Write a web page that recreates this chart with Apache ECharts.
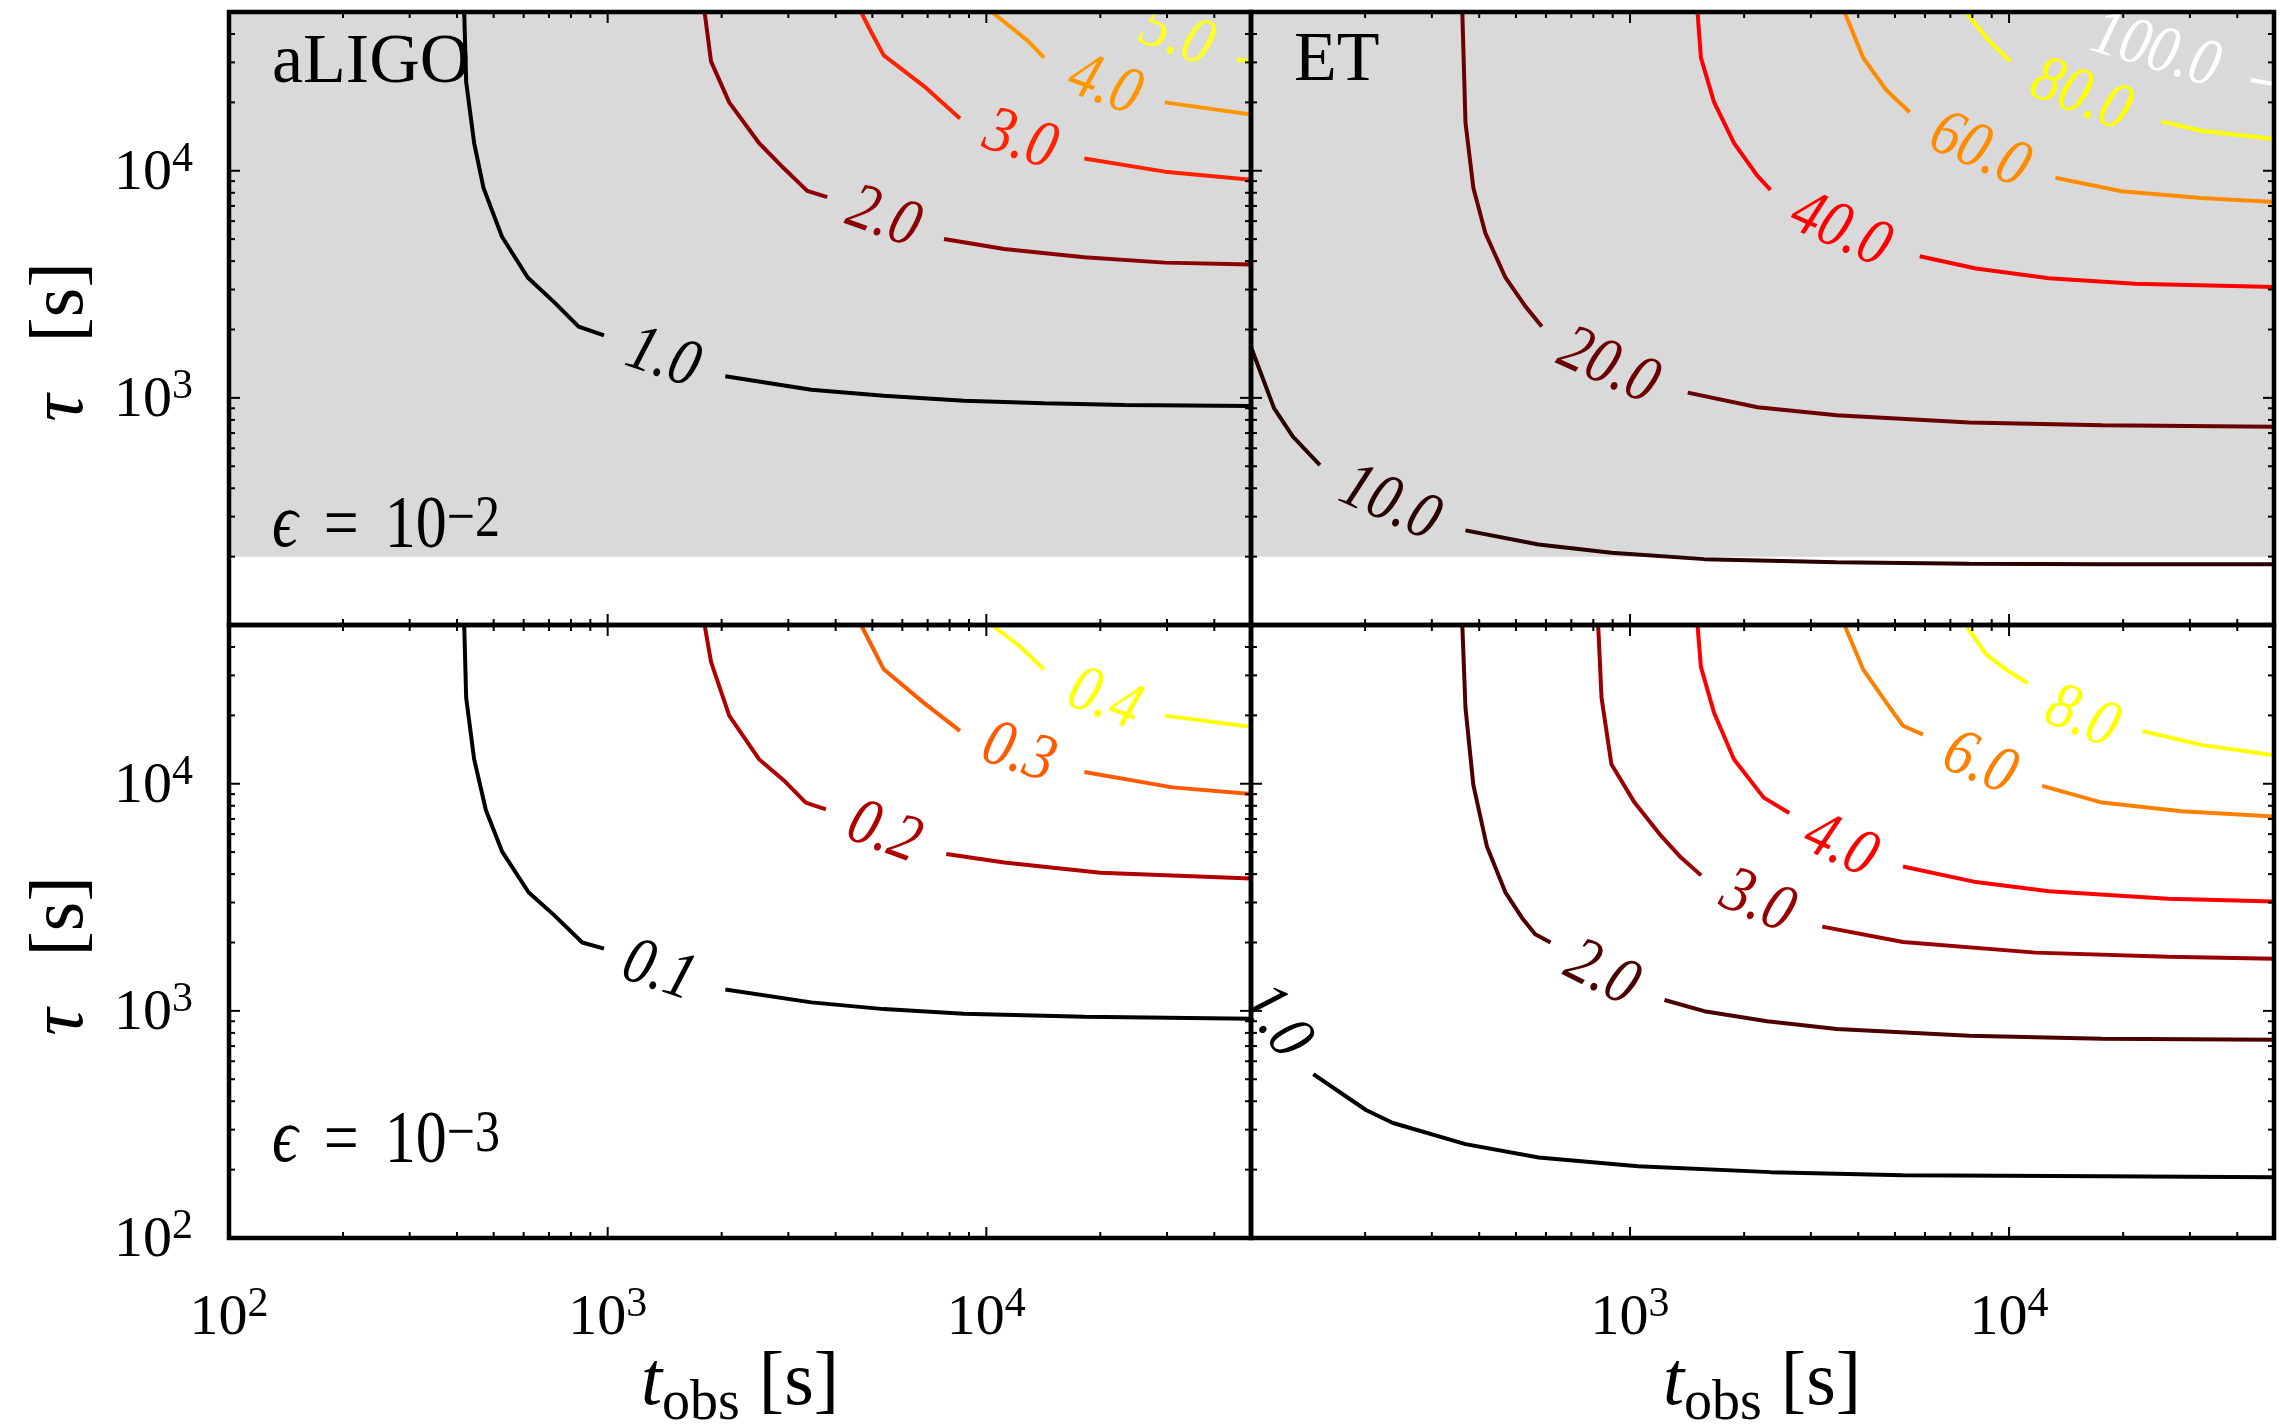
<!DOCTYPE html>
<html>
<head>
<meta charset="utf-8">
<script src="https://cdn.jsdelivr.net/npm/echarts@6/dist/echarts.min.js"></script>
<style>
  html, body { margin: 0; padding: 0; background: #ffffff; }
  #chart { width: 2280px; height: 1425px; }
</style>
</head>
<body>
<div id="chart"></div>
<script>
// ---- axis extents and ticks (seconds) ----
const tMin = 100;
const tMax = 50000;
const decadeExponents = [2, 3, 4];
const minorMantissas = [2, 3, 4, 5, 6, 7, 8, 9];
const shadedTauMin = 200;

// ---- aLIGO, epsilon = 1e-2 ----
const aligoHighLevels = ['1.0', '2.0', '3.0', '4.0', '5.0'];
const aligoHighColors = ['#000000', '#8b0000', '#ff2200', '#ff9500', '#ffff20'];
const aligoHighBefore = [
  [[418, 50000], [423, 24600], [444, 13250], [470, 8410], [526, 5120], [615, 3390], [722, 2640], [838, 2060], [978, 1885]],
  [[1803, 50000], [1875, 30300], [2094, 20000], [2510, 13250], [2906, 10330], [3365, 8150], [3800, 7650]],
  [[4670, 50000], [4980, 40400], [5360, 32200], [6840, 23600], [8520, 17000]],
  [[10350, 50000], [12900, 37200], [14200, 31500]],
  []
];
const aligoHighLabelAt = [[1397, 1482], [5345, 6160], [12280, 13520], [20500, 23600], [31800, 38800]];
const aligoHighAfter = [
  [[2045, 1245], [3450, 1086], [5360, 1021], [8730, 971], [14200, 947], [23200, 931], [50000, 920]],
  [[7730, 5010], [11150, 4520], [18150, 4160], [29600, 3940], [50000, 3865]],
  [[18150, 11320], [29600, 9910], [50000, 9120]],
  [[29600, 20000], [50000, 17700]],
  [[45900, 30900], [50000, 30300]]
];

// ---- ET, epsilon = 1e-2 ----
const etHighLevels = ['10.0', '20.0', '40.0', '60.0', '80.0', '100.0'];
const etHighColors = ['#2a0000', '#6a0000', '#ff0000', '#ff8c00', '#ffff00', '#ffffff'];
const etHighBefore = [
  [[100, 1675], [115, 901], [129, 675], [152, 506]],
  [[361, 50000], [368, 16300], [386, 8410], [415, 5330], [469, 3390], [529, 2535], [585, 2060]],
  [[1507, 50000], [1538, 31500], [1667, 20000], [1880, 13250], [2166, 9510], [2347, 8240]],
  [[3680, 50000], [4120, 31500], [4750, 22600], [5470, 18100]],
  [[7690, 50000], [8870, 37200], [10080, 30300]],
  []
];
const etHighLabelAt = [[232, 341], [875, 1365], [3580, 5450], [8340, 12200], [15450, 21300], [24300, 33600]];
const etHighAfter = [
  [[368, 261], [574, 226], [893, 208], [1570, 195], [3510, 189], [7850, 186], [17600, 185], [50000, 185]],
  [[1420, 1055], [2170, 910], [3510, 838], [7850, 780], [17600, 758], [50000, 746]],
  [[5810, 4200], [8180, 3710], [12740, 3360], [21500, 3180], [50000, 3080]],
  [[13250, 9310], [19800, 8130], [32100, 7580], [50000, 7280]],
  [[25200, 16500], [32100, 15000], [50000, 13800]],
  [[43400, 25100], [50000, 24100]]
];

// ---- aLIGO, epsilon = 1e-3 ----
const aligoLowLevels = ['0.1', '0.2', '0.3', '0.4'];
const aligoLowColors = ['#000000', '#b00000', '#ff5a00', '#ffff00'];
const aligoLowBefore = [
  [[418, 50000], [423, 23900], [444, 12830], [477, 7640], [526, 5040], [618, 3330], [722, 2640], [857, 2000], [978, 1880]],
  [[1803, 50000], [1875, 34400], [2094, 19950], [2510, 12830], [2906, 10420], [3335, 8260], [3770, 7720]],
  [[4670, 50000], [5360, 31900], [6840, 22700], [8520, 17100]],
  [[10350, 50000], [12280, 40200], [14200, 31900]]
];
const aligoLowLabelAt = [[1365, 1485], [5360, 6040], [12170, 13520], [20500, 23300]];
const aligoLowAfter = [
  [[2045, 1243], [3450, 1090], [5360, 1018], [8730, 972], [18150, 943], [50000, 923]],
  [[7840, 4910], [11150, 4500], [20000, 4060], [50000, 3830]],
  [[18150, 11270], [31000, 9640], [50000, 9020]],
  [[29600, 19950], [50000, 17800]]
];

// ---- ET, epsilon = 1e-3 ----
const etLowLevels = ['1.0', '2.0', '3.0', '4.0', '6.0', '8.0'];
const etLowColors = ['#000000', '#4d0000', '#990000', '#ff0000', '#ff8000', '#ffff00'];
const etLowBefore = [
  [],
  [[361, 50000], [368, 21600], [386, 9880], [419, 5310], [469, 3325], [519, 2565], [562, 2175], [617, 2000]],
  [[824, 50000], [841, 23900], [893, 12190], [1028, 8260], [1208, 5890], [1363, 4730], [1540, 3950]],
  [[1507, 50000], [1538, 32700], [1667, 20500], [1880, 12830], [2253, 8690], [2630, 7430]],
  [[3680, 50000], [4120, 31900], [4750, 22700], [5250, 18000], [5930, 16450]],
  [[7690, 50000], [8690, 37200], [9800, 31900], [11200, 27700]]
];
const etLowLabelAt = [[116, 893], [841, 1449], [2167, 3000], [3580, 5310], [8340, 12190], [15560, 19460]];
const etLowAfter = [
  [[146, 527], [201, 366], [237, 321], [368, 259], [574, 226], [1050, 207], [2350, 195], [5250, 189], [17600, 187], [50000, 185]],
  [[1233, 1117], [1570, 997], [2300, 900], [3510, 832], [7850, 778], [17600, 754], [50000, 746]],
  [[3215, 2350], [5250, 2010], [11750, 1805], [26300, 1730], [50000, 1695]],
  [[5250, 4320], [8180, 3690], [12740, 3360], [26300, 3120], [50000, 3030]],
  [[12230, 9790], [17600, 8260], [28500, 7560], [50000, 7180]],
  [[22500, 17080], [32100, 14830], [50000, 13360]]
];

// ---- layout ----
const SERIF = 'Liberation Serif';
const QSERIF = '"Liberation Serif", serif';
const gridBoxes = [
  { left: 229, top: 12, width: 1022, height: 613 },
  { left: 1251, top: 12, width: 1023, height: 613 },
  { left: 229, top: 625, width: 1022, height: 613 },
  { left: 1251, top: 625, width: 1023, height: 613 }
];
const panels = [
  { levels: aligoHighLevels, colors: aligoHighColors, before: aligoHighBefore, after: aligoHighAfter, labelAt: aligoHighLabelAt, shaded: true, xLabels: false, yLabels: true, hideFirstX: false, hideFirstY: true },
  { levels: etHighLevels, colors: etHighColors, before: etHighBefore, after: etHighAfter, labelAt: etHighLabelAt, shaded: true, xLabels: false, yLabels: false, hideFirstX: true, hideFirstY: true },
  { levels: aligoLowLevels, colors: aligoLowColors, before: aligoLowBefore, after: aligoLowAfter, labelAt: aligoLowLabelAt, shaded: false, xLabels: true, yLabels: true, hideFirstX: false, hideFirstY: false },
  { levels: etLowLevels, colors: etLowColors, before: etLowBefore, after: etLowAfter, labelAt: etLowLabelAt, shaded: false, xLabels: true, yLabels: false, hideFirstX: true, hideFirstY: false }
];

const tickValues = [];
decadeExponents.forEach(e => {
  tickValues.push({ v: Math.pow(10, e), major: true });
  minorMantissas.forEach(m => {
    const v = m * Math.pow(10, e);
    if (v < tMax) tickValues.push({ v: v, major: false });
  });
});

const tickRich = {
  b: { fontFamily: SERIF, fontSize: 58, color: '#000', lineHeight: 64, verticalAlign: 'bottom' },
  s: { fontFamily: SERIF, fontSize: 42, color: '#000', lineHeight: 32, verticalAlign: 'top' }
};

function decadeLabel(hideFirst) {
  return function (v) {
    const e = Math.round(Math.log10(v));
    if (Math.abs(Math.pow(10, e) - v) > 1e-6 * v) return '';
    if (decadeExponents.indexOf(e) < 0) return '';
    if (hideFirst && e === decadeExponents[0]) return '';
    return '{b|10}{s|' + e + '}';
  };
}

const xAxes = [], yAxes = [], series = [];
panels.forEach((P, g) => {
  const common = {
    type: 'log', logBase: 10, gridIndex: g, min: tMin, max: tMax,
    axisLine: { show: false }, axisTick: { show: false },
    splitLine: { show: false }, minorTick: { show: false }, minorSplitLine: { show: false }
  };
  xAxes.push(Object.assign({}, common, {
    axisLabel: { show: P.xLabels, margin: 46, fontFamily: SERIF, formatter: decadeLabel(P.hideFirstX), rich: tickRich, showMinLabel: true, showMaxLabel: false, hideOverlap: false }
  }));
  yAxes.push(Object.assign({}, common, {
    axisLabel: { show: P.yLabels, margin: 36, fontFamily: SERIF, formatter: decadeLabel(P.hideFirstY), rich: tickRich, showMinLabel: true, showMaxLabel: false, hideOverlap: false }
  }));

  // grey band above the tau threshold
  if (P.shaded) {
    series.push({
      type: 'custom', xAxisIndex: g, yAxisIndex: g, z: 1, silent: true, clip: true,
      data: [[tMin, shadedTauMin, tMax, tMax]],
      renderItem: function (params, api) {
        const p0 = api.coord([api.value(0), api.value(3)]);
        const p1 = api.coord([api.value(2), api.value(1)]);
        return { type: 'rect', shape: { x: p0[0], y: p0[1], width: p1[0] - p0[0], height: p1[1] - p0[1] }, style: { fill: '#d9d9d9' } };
      }
    });
  }

  // contour lines, broken where the inline label sits
  P.levels.forEach((lev, k) => {
    series.push({
      type: 'line', xAxisIndex: g, yAxisIndex: g, z: 3, silent: true, clip: true,
      symbol: 'none', showSymbol: false, connectNulls: false, smooth: false,
      lineStyle: { color: P.colors[k], width: 4 },
      data: P.before[k].concat([['-', '-']], P.after[k])
    });
  });

  // inline contour labels, rotated along the local line direction
  series.push({
    type: 'custom', xAxisIndex: g, yAxisIndex: g, z: 4, silent: true, clip: true,
    data: P.labelAt.map(p => [p[0], p[1]]),
    renderItem: function (params, api) {
      const k = params.dataIndex;
      const c = api.coord([api.value(0), api.value(1)]);
      const bef = P.before[k], aft = P.after[k];
      const a = bef.length ? api.coord(bef[bef.length - 1]) : c;
      const b = aft.length ? api.coord(aft[0]) : c;
      const ang = Math.atan2(b[1] - a[1], b[0] - a[0]);
      return {
        type: 'text', x: c[0], y: c[1], rotation: -ang, scaleY: 1.15,
        style: { text: P.levels[k], fill: P.colors[k], font: 'italic 58px ' + QSERIF, align: 'center', verticalAlign: 'middle' }
      };
    }
  });

  // frame and inward ticks on all four sides
  series.push({
    type: 'custom', xAxisIndex: g, yAxisIndex: g, z: 6, silent: true, clip: false,
    data: [[tMin, tMin]],
    renderItem: function (params, api) {
      const tl = api.coord([tMin, tMax]);
      const br = api.coord([tMax, tMin]);
      const children = [];
      const st = { stroke: '#000', lineWidth: 2 };
      tickValues.forEach(t => {
        const len = t.major ? 11 : 6;
        const px = api.coord([t.v, tMin])[0];
        const py = api.coord([tMin, t.v])[1];
        children.push({ type: 'line', shape: { x1: px, y1: br[1], x2: px, y2: br[1] - len }, style: st });
        children.push({ type: 'line', shape: { x1: px, y1: tl[1], x2: px, y2: tl[1] + len }, style: st });
        children.push({ type: 'line', shape: { x1: tl[0], y1: py, x2: tl[0] + len, y2: py }, style: st });
        children.push({ type: 'line', shape: { x1: br[0], y1: py, x2: br[0] - len, y2: py }, style: st });
      });
      children.push({ type: 'rect', shape: { x: tl[0], y: tl[1], width: br[0] - tl[0], height: br[1] - tl[1] }, style: { fill: null, stroke: '#000', lineWidth: 4.5 } });
      return { type: 'group', children: children };
    }
  });
});

// rich tokens for the free-standing annotations
const epsRich = {
  e: { font: 'italic 64px ' + QSERIF, fill: '#000', lineHeight: 62, verticalAlign: 'bottom' },
  g: { width: 26, lineHeight: 62 },
  q: { font: '62px ' + QSERIF, fill: '#000', lineHeight: 62, verticalAlign: 'bottom' },
  s: { font: '50px ' + QSERIF, fill: '#000', lineHeight: 30, verticalAlign: 'top' }
};
const titleRich = {
  t: { font: 'italic 76px ' + QSERIF, fill: '#000', lineHeight: 76, verticalAlign: 'top' },
  o: { font: '56px ' + QSERIF, fill: '#000', lineHeight: 56, verticalAlign: 'top', padding: [30, 0, 0, 0] },
  g: { width: 52, lineHeight: 76 },
  n: { font: '76px ' + QSERIF, fill: '#000', lineHeight: 76, verticalAlign: 'top' }
};

const graphics = [
  { type: 'text', x: 272, y: 64, z: 100, style: { text: 'aLIGO', font: '70px ' + QSERIF, fill: '#000', verticalAlign: 'middle' } },
  { type: 'text', x: 1294, y: 62, z: 100, style: { text: 'ET', font: '70px ' + QSERIF, fill: '#000', verticalAlign: 'middle' } },
  { type: 'text', x: 272, y: 527, z: 100, scaleY: 1.2, style: { text: '{e|ϵ}{g|}{q|=}{g|}{q|10}{s|−2}', font: '62px ' + QSERIF, rich: epsRich, verticalAlign: 'middle' } },
  { type: 'text', x: 272, y: 1142, z: 100, scaleY: 1.2, style: { text: '{e|ϵ}{g|}{q|=}{g|}{q|10}{s|−3}', font: '62px ' + QSERIF, rich: epsRich, verticalAlign: 'middle' } },
  { type: 'text', x: 62, y: 342, z: 100, rotation: Math.PI / 2, style: { text: '{t|τ}{g|}{n|[s]}', font: '76px ' + QSERIF, rich: titleRich, align: 'center', verticalAlign: 'middle' } },
  { type: 'text', x: 62, y: 956, z: 100, rotation: Math.PI / 2, style: { text: '{t|τ}{g|}{n|[s]}', font: '76px ' + QSERIF, rich: titleRich, align: 'center', verticalAlign: 'middle' } },
  { type: 'text', x: 740, y: 1346, z: 100, style: { text: '{t|t}{o|obs}{n| [s]}', font: '76px ' + QSERIF, rich: titleRich, align: 'center', verticalAlign: 'top' } },
  { type: 'text', x: 1762, y: 1346, z: 100, style: { text: '{t|t}{o|obs}{n| [s]}', font: '76px ' + QSERIF, rich: titleRich, align: 'center', verticalAlign: 'top' } }
];

const chart = echarts.init(document.getElementById('chart'), null, { renderer: 'canvas' });
chart.setOption({
  animation: false,
  backgroundColor: '#ffffff',
  textStyle: { fontFamily: SERIF },
  grid: gridBoxes.map(b => Object.assign({ containLabel: false, show: false }, b)),
  xAxis: xAxes,
  yAxis: yAxes,
  series: series,
  graphic: graphics
});
</script>
</body>
</html>
